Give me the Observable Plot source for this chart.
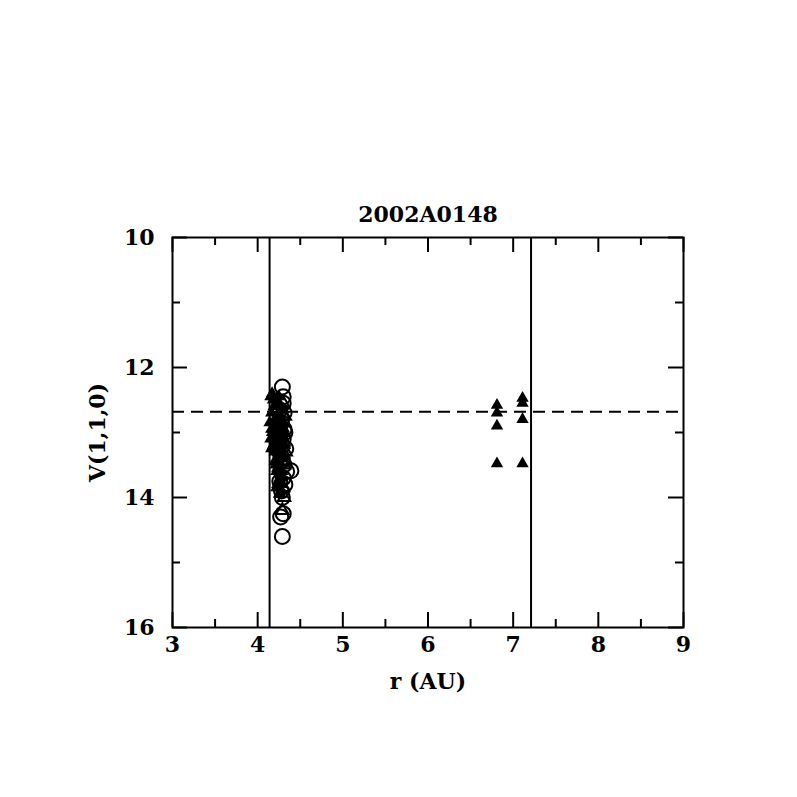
<!DOCTYPE html>
<html>
<head>
<meta charset="utf-8">
<script src="https://cdn.jsdelivr.net/npm/d3@7"></script>
<script src="https://cdn.jsdelivr.net/npm/@observablehq/plot@0.6"></script>
<style>
  html, body { margin: 0; padding: 0; background: #fff; }
</style>
</head>
<body>
<div id="chart"></div>
<script>
const title = "2002A0148";
const xLabel = "r (AU)";
const yLabel = "V(1,1,0)";
const xMajorTicks = [3, 4, 5, 6, 7, 8, 9];
const xMinorTicks = [3.5, 4.5, 5.5, 6.5, 7.5, 8.5];
const yMajorTicks = [10, 12, 14, 16];
const yMinorTicks = [11, 13, 15];
const verticalLinesR = [4.14, 7.21];
const meanV = 12.68;

// filled triangles
const filledTriR = [4.15, 4.18, 4.20, 4.16, 4.22, 4.25, 4.19, 4.27, 4.23, 4.17, 4.21, 4.26, 4.24, 4.18, 4.29, 4.20, 4.28, 4.22, 4.25, 4.16, 4.30, 4.23, 4.27, 4.21, 4.26, 4.24, 4.29, 4.28, 4.25, 4.27, 4.30, 4.26, 4.19, 4.22,
                    4.14, 4.15, 4.17, 4.19, 4.21, 4.23, 4.25, 4.27, 4.29, 4.31, 4.16, 4.18, 4.20, 4.24, 4.26, 4.28, 4.30, 4.32, 4.20, 4.22, 4.24, 4.26, 4.28, 4.30, 4.23, 4.25, 4.27, 4.29,
                    6.81, 6.81, 6.81, 6.81, 7.11, 7.11, 7.11, 7.11];
const filledTriV = [12.45, 12.50, 12.60, 12.70, 12.75, 12.55, 12.85, 12.65, 12.90, 13.00, 13.05, 12.95, 13.15, 13.20, 13.10, 13.30, 13.25, 13.40, 13.45, 12.95, 13.35, 13.55, 13.60, 13.50, 13.70, 13.75, 13.80, 13.90, 13.95, 13.65, 13.05, 12.80, 13.20, 13.85,
                    12.85, 13.10, 12.40, 12.60, 12.90, 13.00, 12.45, 12.75, 12.85, 12.95, 13.25, 12.95, 13.10, 13.30, 13.15, 13.05, 12.65, 13.20, 13.45, 13.60, 13.40, 13.55, 13.70, 13.40, 13.80, 13.85, 13.95, 13.60,
                    12.58, 12.70, 12.90, 13.48, 12.47, 12.55, 12.80, 13.48];

// open circles
const circleR = [4.29, 4.30, 4.31, 4.28, 4.32, 4.30, 4.33, 4.29, 4.31, 4.34, 4.39, 4.30, 4.32, 4.28, 4.29, 4.27, 4.30, 4.29, 4.31,
                 4.26, 4.28, 4.25, 4.27, 4.29, 4.26, 4.28, 4.30];
const circleV = [12.30, 12.55, 12.70, 12.85, 13.00, 13.10, 13.25, 13.40, 13.50, 13.60, 13.59, 13.70, 13.80, 13.90, 14.00, 14.30, 14.25, 14.60, 12.95,
                 12.65, 12.80, 13.05, 13.35, 13.20, 13.75, 13.45, 12.45];

// open triangles
const openTriR = [4.30, 4.32, 4.29, 4.33, 4.31, 4.30, 4.31, 4.29];
const openTriV = [12.55, 12.75, 13.00, 13.30, 13.50, 13.85, 14.00, 14.20];

const filledTri = filledTriR.map((r, i) => ({r, v: filledTriV[i]}));
const circles = circleR.map((r, i) => ({r, v: circleV[i]}));
const openTri = openTriR.map((r, i) => ({r, v: openTriV[i]}));

const font = "'DejaVu Serif', serif";
const fs = 22;
// tick lengths in data units (15px / 8px)
const xPx = 6 / 511, yPx = 6 / 390;
const majX = 15 * xPx, minX = 8 * xPx, majY = 15 * yPx, minY = 8 * yPx;

const chart = Plot.plot({
  width: 797,
  height: 797,
  marginLeft: 172,
  marginRight: 114,
  marginTop: 237,
  marginBottom: 170,
  style: {fontFamily: font, fontWeight: "bold", fontSize: fs + "px", color: "black", background: "white"},
  x: {domain: [3, 9], label: null},
  y: {domain: [10, 16], reverse: true, label: null},
  marks: [
    Plot.axisX({ticks: xMajorTicks, tickSize: 0, tickPadding: 9, tickFormat: d => String(d), fontSize: fs, fontWeight: "bold", fontFamily: font}),
    Plot.axisY({ticks: yMajorTicks, tickSize: 0, tickPadding: 18, tickFormat: d => String(d), fontSize: fs, fontWeight: "bold", fontFamily: font}),
    // ticks
    Plot.ruleX(xMajorTicks, {x: d => d, y1: 16, y2: 16 - majY, stroke: "black", strokeWidth: 2}),
    Plot.ruleX(xMajorTicks, {x: d => d, y1: 10, y2: 10 + majY, stroke: "black", strokeWidth: 2}),
    Plot.ruleX(xMinorTicks, {x: d => d, y1: 16, y2: 16 - minY, stroke: "black", strokeWidth: 2}),
    Plot.ruleX(xMinorTicks, {x: d => d, y1: 10, y2: 10 + minY, stroke: "black", strokeWidth: 2}),
    Plot.ruleY(yMajorTicks, {y: d => d, x1: 3, x2: 3 + majX, stroke: "black", strokeWidth: 2}),
    Plot.ruleY(yMajorTicks, {y: d => d, x1: 9, x2: 9 - majX, stroke: "black", strokeWidth: 2}),
    Plot.ruleY(yMinorTicks, {y: d => d, x1: 3, x2: 3 + minX, stroke: "black", strokeWidth: 2}),
    Plot.ruleY(yMinorTicks, {y: d => d, x1: 9, x2: 9 - minX, stroke: "black", strokeWidth: 2}),
    // reference lines
    Plot.ruleX(verticalLinesR, {x: d => d, stroke: "black", strokeWidth: 2}),
    Plot.ruleY([meanV], {y: d => d, stroke: "black", strokeWidth: 2, strokeDasharray: "12,7"}),
    // data
    Plot.dot(filledTri, {x: "r", y: "v", symbol: "triangle", r: 4.6, fill: "black", stroke: "none"}),
    Plot.dot(openTri, {x: "r", y: "v", symbol: "triangle", r: 4.6, fill: "none", stroke: "black", strokeWidth: 2}),
    Plot.dot(circles, {x: "r", y: "v", symbol: "circle", r: 7.5, fill: "none", stroke: "black", strokeWidth: 2}),
    Plot.frame({stroke: "black", strokeWidth: 2}),
    // texts
    Plot.text([title], {frameAnchor: "top", dy: -31, fontSize: fs, fontWeight: "bold", fontFamily: font, letterSpacing: "1px"}),
    Plot.text([xLabel], {frameAnchor: "bottom", dy: 61, fontSize: fs, fontWeight: "bold", fontFamily: font, letterSpacing: "2px"}),
    Plot.text([yLabel], {frameAnchor: "left", dx: -75, dy: 0, rotate: -90, textAnchor: "middle", fontSize: fs, fontWeight: "bold", fontFamily: font, letterSpacing: "1px"})
  ]
});
document.getElementById("chart").appendChild(chart);
</script>
</body>
</html>
